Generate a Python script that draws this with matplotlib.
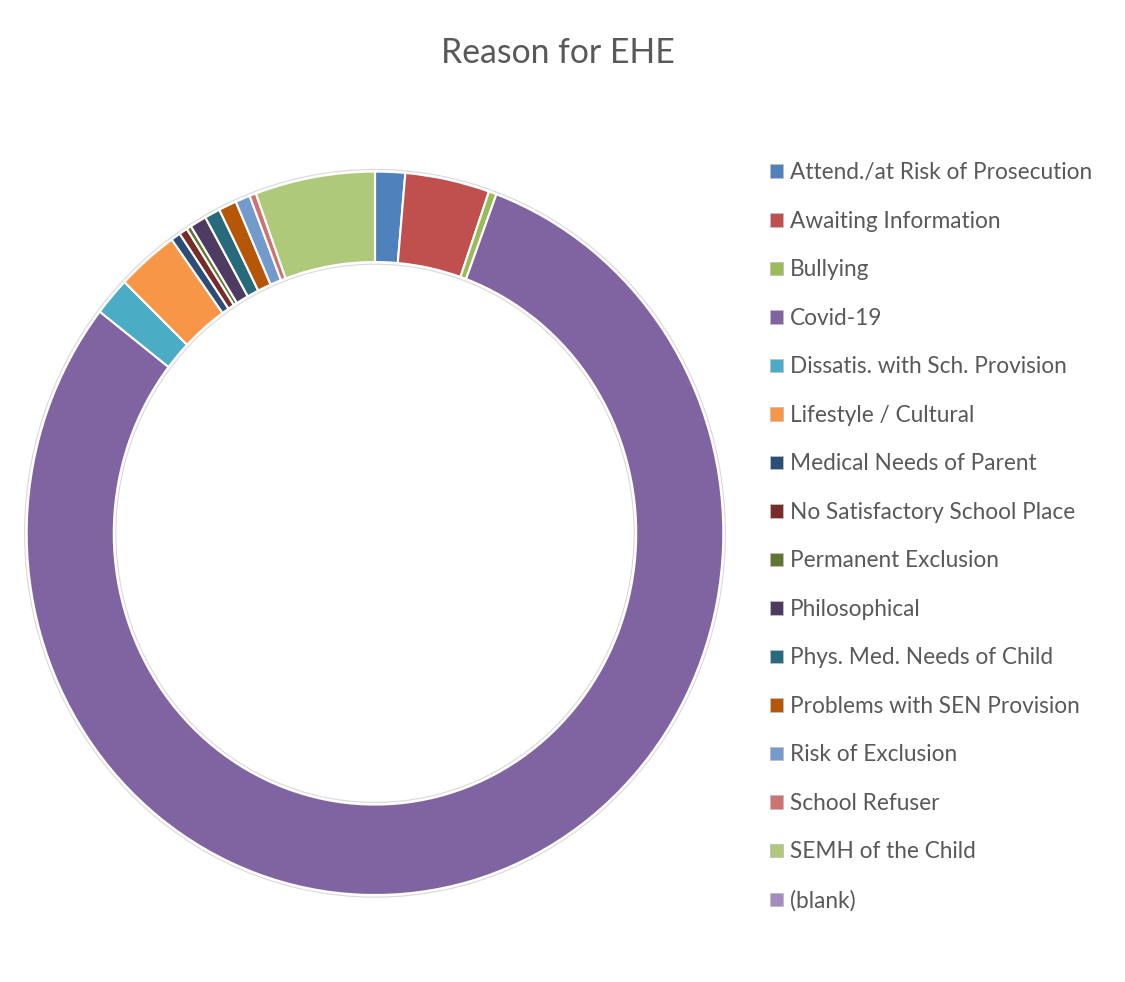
import matplotlib
matplotlib.use("Agg")
from matplotlib import pyplot as plt
from matplotlib.patches import Ellipse, Patch

# (approx. share of the ring, in degrees)
reasons = [
    "Attend./at Risk of Prosecution",
    "Awaiting Information",
    "Bullying",
    "Covid-19",
    "Dissatis. with Sch. Provision",
    "Lifestyle / Cultural",
    "Medical Needs of Parent",
    "No Satisfactory School Place",
    "Permanent Exclusion",
    "Philosophical",
    "Phys. Med. Needs of Child",
    "Problems with SEN Provision",
    "Risk of Exclusion",
    "School Refuser",
    "SEMH of the Child",
    "(blank)",
]
values = [5.0, 14.1, 1.3, 287.4, 6.2, 10.3, 1.6, 1.4, 0.8, 2.75, 2.6, 3.0, 2.45, 1.1, 20.0, 0.0]
colours = [
    "#4F81BD", "#C0504D", "#9BBB59", "#8064A2", "#4BACC6", "#F79646",
    "#2C4D75", "#772C2A", "#5F7530", "#4D3B62", "#276A7C", "#B65708",
    "#729ACA", "#CD7371", "#AFC97A", "#A08CC0",
]

plt.rcParams["font.family"] = ["Lato", "DejaVu Sans"]
W, H = 1125, 982

fig = plt.figure(figsize=(W / 100, H / 100), dpi=100)
ax = fig.add_axes([0, 0, 1, 1])
wedges, _ = ax.pie(
    values, colors=colours, startangle=90, counterclock=False, radius=1.0,
    wedgeprops=dict(width=0.25, edgecolor="white", linewidth=1.5),
)
# faint outline round the ring
for r in (1.006, 0.744):
    ax.add_patch(Ellipse((0, 0), 2 * r, 2 * r, fill=False, edgecolor="#D9D9D9", linewidth=0.8))
ax.set_aspect("auto")
ax.set_xlim(-1.05, 1.05)
ax.set_ylim(-1.05, 1.05)
ax.set_position([(26.7 - 0.05 * 348.3) / W, (H - 895 - 0.05 * 361.7) / H,
                 2.1 * 348.3 / W, 2.1 * 361.7 / H])
ax.axis("off")

fig.text(558 / W, 1 - 53 / H, "Reason for EHE", ha="center", va="center",
         fontsize=24.3, color="#595959")

handles = [Patch(facecolor=c, edgecolor="#BFBFBF", linewidth=0.6) for c in colours]
fig.legend(handles, reasons, loc="upper left", bbox_to_anchor=(759 / W, 1 - 151 / H),
           frameon=False, fontsize=16.3, handlelength=0.55, handleheight=0.55,
           handletextpad=0.3, labelspacing=1.215, labelcolor="#595959", borderpad=0)

fig.savefig("out.png", dpi=100, facecolor="white")
